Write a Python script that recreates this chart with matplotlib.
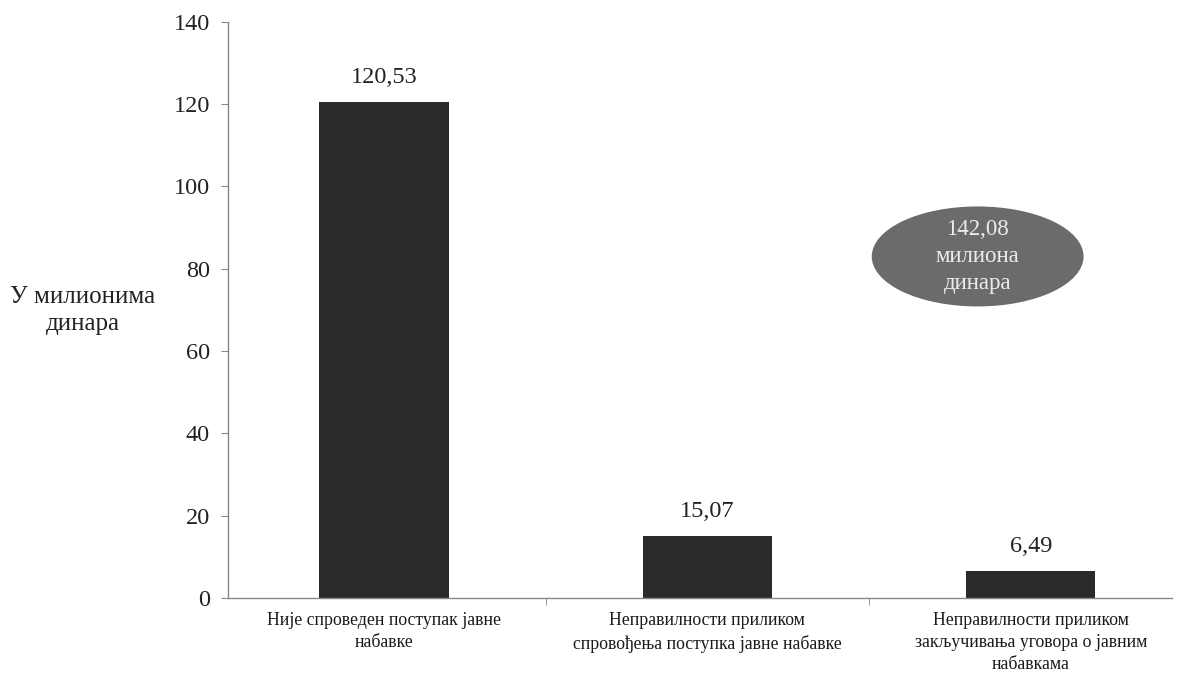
import matplotlib
matplotlib.use("Agg")
import matplotlib.pyplot as plt
from matplotlib.patches import Ellipse

categories = [
    "Није спроведен поступак јавне\nнабавке",
    "Неправилности приликом\nспровођења поступка јавне набавке",
    "Неправилности приликом\nзакључивања уговора о јавним\nнабавкама",
]
values = [120.53, 15.07, 6.49]
value_labels = ["120,53", "15,07", "6,49"]
total_label = "142,08\nмилиона\nдинара"
yticks = [0, 20, 40, 60, 80, 100, 120, 140]

plt.rcParams['font.family'] = ['Liberation Serif', 'DejaVu Serif']

fig = plt.figure(figsize=(11.84, 6.9), dpi=100)
ax = fig.add_axes([0.1926, 0.1333, 0.797, 0.835])

x = list(range(len(categories)))
ax.bar(x, values, width=0.40, color='#2a2a2a', zorder=2)
for xi, v, lab in zip(x, values, value_labels):
    ax.text(xi, v + 3.5, lab, ha='center', va='bottom', fontsize=17.5, color='#222222')

ax.set_xlim(-0.482, 2.436)
ax.set_ylim(0, 140)
ax.set_yticks(yticks)
ax.set_yticklabels([str(t) for t in yticks], fontsize=17.5, color='#222222')
ax.set_xticks(x)
ax.set_xticklabels(categories, fontsize=12.8, color='#1a1a1a', linespacing=1.4)
ax.tick_params(axis='x', length=0, pad=10)
ax.set_xticks([0.5, 1.5], minor=True)
ax.tick_params(axis='x', which='minor', length=5, color='#888888')
ax.tick_params(axis='y', length=5, color='#888888', pad=8)

for s in ['top', 'right']:
    ax.spines[s].set_visible(False)
for s in ['left', 'bottom']:
    ax.spines[s].set_color('#888888')
    ax.spines[s].set_linewidth(1)

fig.text(0.07, 0.55, "У милионима\nдинара", ha='center', va='center', fontsize=18,
         color='#222222', linespacing=1.25)

ell = Ellipse((1.836, 83.0), width=0.655, height=24.3, facecolor='#6b6b6b', edgecolor='none', zorder=3)
ax.add_patch(ell)
ax.text(1.836, 83.0, total_label, ha='center', va='center', fontsize=16.5, color='#ececec',
        linespacing=1.35, zorder=4)

fig.savefig("out.png", dpi=100)
